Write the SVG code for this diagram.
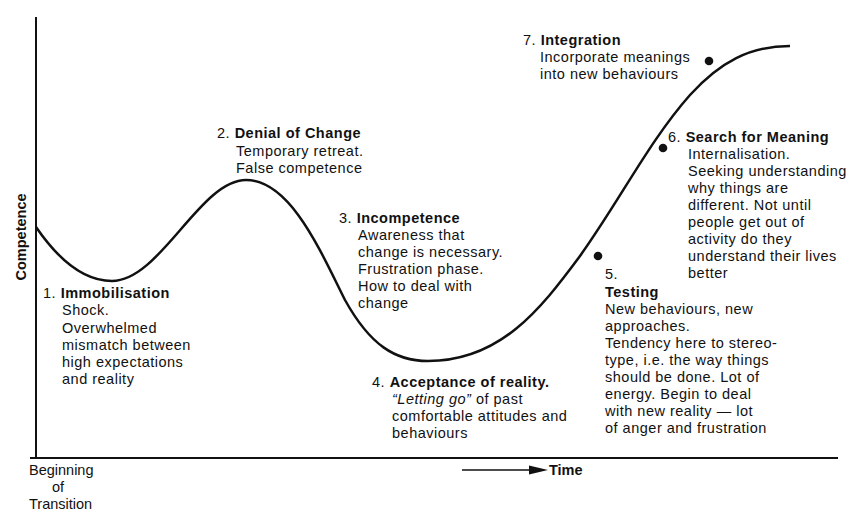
<svg xmlns="http://www.w3.org/2000/svg" width="865" height="521" viewBox="0 0 865 521">
<style>
text{font-family:"Liberation Sans",Arial,sans-serif;font-size:14.5px;fill:#111;letter-spacing:0.5px}
.b{font-weight:bold}
.n{letter-spacing:0}
.axis{stroke:#111;stroke-width:2;fill:none}
.curve{stroke:#111;stroke-width:2.5;fill:none}
.dot{fill:#111}
</style>
<rect width="865" height="521" fill="#fff"/>
<g id="connectors">
<line class="axis" x1="36" y1="17" x2="36" y2="458"/>
<line class="axis" x1="30" y1="458" x2="838" y2="458"/>
<path class="curve" d="M36,227 C60,262 85,281 112,281 C160,281 200,180 246,180 C290,180 320,250 345,300 C370,345 395,361 428,361 C500,361 540,310 580,256 C620,200 650,140 690,95 C720,62 750,46 790,46"/>
<line x1="462" y1="470" x2="532" y2="470" stroke="#111" stroke-width="1.3"/>
<polygon points="529,465.5 548,470 529,474.5" fill="#111"/>
</g>
<g id="axis-labels">
<text class="b n" transform="translate(26,237) rotate(-90)" text-anchor="middle">Competence</text>
<text class="n" x="29" y="475">Beginning</text>
<text class="n" x="58" y="492" text-anchor="middle">of</text>
<text class="n" x="29" y="509">Transition</text>
<text class="b n" x="549" y="475">Time</text>
</g>
<g id="stage1">
<text x="43" y="298">1. <tspan class="b">Immobilisation</tspan></text>
<text x="62" y="315">Shock.</text>
<text x="62" y="333">Overwhelmed</text>
<text x="62" y="350">mismatch between</text>
<text x="62" y="367">high expectations</text>
<text x="62" y="384">and reality</text>
</g>
<g id="stage2">
<text x="217" y="138">2. <tspan class="b">Denial of Change</tspan></text>
<text x="236" y="156">Temporary retreat.</text>
<text x="236" y="173">False competence</text>
</g>
<g id="stage3">
<text x="339" y="223">3. <tspan class="b">Incompetence</tspan></text>
<text x="358" y="240">Awareness that</text>
<text x="358" y="257">change is necessary.</text>
<text x="358" y="274">Frustration phase.</text>
<text x="358" y="291">How to deal with</text>
<text x="358" y="308">change</text>
</g>
<g id="stage4">
<text x="372" y="387">4. <tspan class="b">Acceptance of reality.</tspan></text>
<text x="392" y="404"><tspan font-style="italic">“Letting go”</tspan> of past</text>
<text x="392" y="421">comfortable attitudes and</text>
<text x="392" y="438">behaviours</text>
</g>
<g id="stage5">
<circle class="dot" cx="598" cy="256" r="4.3"/>
<text x="605" y="279">5.</text>
<text class="b" x="605" y="297">Testing</text>
<text x="605" y="314">New behaviours, new</text>
<text x="605" y="331">approaches.</text>
<text x="605" y="348">Tendency here to stereo-</text>
<text x="605" y="365">type, i.e. the way things</text>
<text x="605" y="382">should be done. Lot of</text>
<text x="605" y="399">energy. Begin to deal</text>
<text x="605" y="416">with new reality — lot</text>
<text x="605" y="433">of anger and frustration</text>
</g>
<g id="stage6">
<circle class="dot" cx="663" cy="148" r="4.3"/>
<text x="668" y="142">6. <tspan class="b">Search for Meaning</tspan></text>
<text x="688" y="159">Internalisation.</text>
<text x="688" y="176">Seeking understanding</text>
<text x="688" y="193">why things are</text>
<text x="688" y="210">different. Not until</text>
<text x="688" y="227">people get out of</text>
<text x="688" y="244">activity do they</text>
<text x="688" y="261">understand their lives</text>
<text x="688" y="278">better</text>
</g>
<g id="stage7">
<circle class="dot" cx="709" cy="61" r="4.3"/>
<text x="523" y="45">7. <tspan class="b">Integration</tspan></text>
<text x="540" y="62">Incorporate meanings</text>
<text x="540" y="79">into new behaviours</text>
</g>
</svg>
